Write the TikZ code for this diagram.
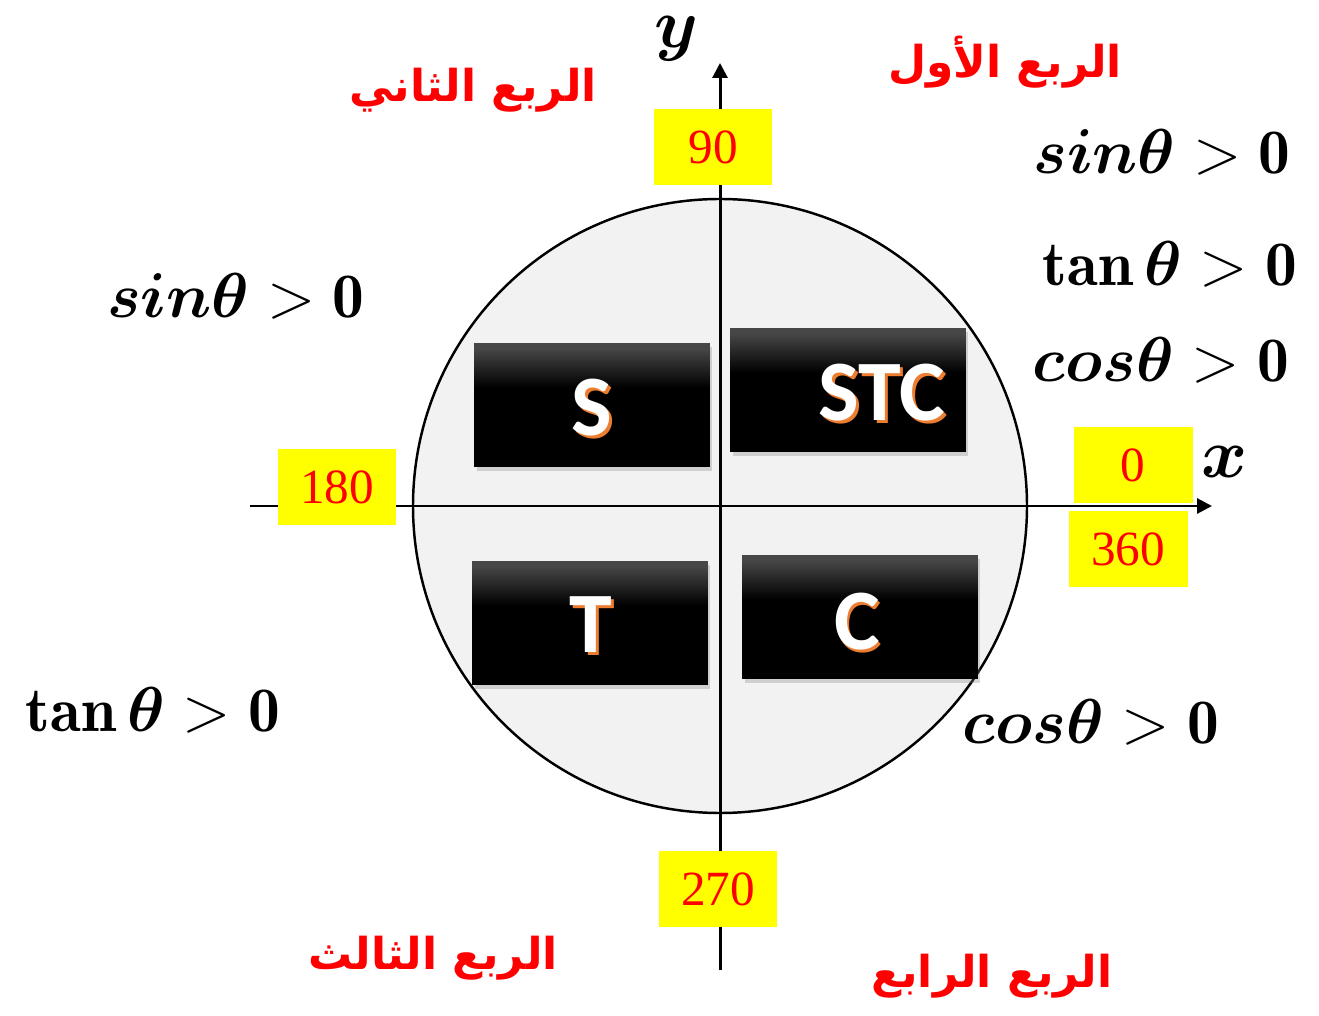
\documentclass[tikz,border=0pt]{standalone}
\usepackage{amsmath,bm,graphicx}
\usepackage{fontspec}
\newfontfamily\arabicfont[Script=Arabic]{DejaVu Sans}
\newfontfamily\numfont{Liberation Serif}
\newfontfamily\boxfont{Carlito}
\TeXXeTstate=1
\usetikzlibrary{arrows.meta,shadows}
\definecolor{CircleGray}{RGB}{242,242,242}
\definecolor{MarkYellow}{RGB}{255,255,0}
\definecolor{LetterOrange}{RGB}{237,125,49}
\pgfdeclareverticalshading{boxfade}{100bp}{color(0bp)=(black); color(25bp)=(black); color(57bp)=(black); color(73bp)=(black!72); color(100bp)=(black!72)}
\newcommand{\bigmath}[2][1.45]{\scalebox{#1}{\Huge$#2$}}
\tikzset{
  anglebox/.style={fill=MarkYellow,text=red,minimum width=2.38cm,minimum height=1.54cm,inner sep=0pt,font=\numfont\fontsize{28}{30}\selectfont},
  signbox/.style={shading=boxfade,minimum width=4.72cm,minimum height=2.48cm,drop shadow={opacity=.3,shadow xshift=.5mm,shadow yshift=-.8mm}},
  letter/.style={font=\boxfont\bfseries\fontsize{49}{50}\selectfont,inner sep=0pt},
  quadname/.style={text=red,font=\arabicfont\bfseries\fontsize{25}{27}\selectfont},
  signrule/.style={inner sep=0pt}
}
\begin{document}
\begin{tikzpicture}[x=.02cm,y=-.02cm]
\useasboundingbox (0,0) rectangle (1319,1016);
\coordinate (O) at (720,506);
\fill[CircleGray] (O) circle[radius=307];
\draw[line width=1.4pt] (O) circle[radius=307];
\coordinate (xl) at (250,506);\coordinate (xr) at (1212,506);
\coordinate (yb) at (720,970);\coordinate (yt) at (720,63);
\draw[-{Triangle[length=3mm,width=3mm]},line width=1.7pt] (xl)--(xr);
\draw[-{Triangle[length=3mm,width=3mm]},line width=1.7pt] (yb)--(yt);
\node[signbox] (S) at (592,405){};
\node[signbox] (STC) at (848,390){};
\node[signbox] (T) at (590,623){};
\node[signbox] (C) at (860,617){};
\foreach \t/\x/\y in {S/592/408,STC/882/393,T/591/625,C/857/622}{
  \node[letter,text=LetterOrange] (o\t) at (\x+2.5,\y+2.5){\t};
  \node[letter,text=white] (l\t) at (\x,\y){\t};
}
\foreach \v/\x/\y in {90/713/147,180/337/487,0/1133/465,360/1128/549,270/718/889}
  \node[anglebox] (a\v) at (\x,\y){\v};
\node[signrule] (xname) at (1225,462){\bigmath[1.6]{\bm{x}}};
\node[signrule] (yname) at (676,39){\bigmath[1.6]{\bm{y}}};
\node[signrule] (sinI) at (1162,152){\bigmath{\bm{sin\theta}>\mathbf{0}}};
\node[signrule] (tanI) at (1170,264){\bigmath{\mathbf{tan}\,\bm{\theta}>\mathbf{0}}};
\node[signrule] (cosI) at (1161,360){\bigmath{\bm{cos\theta}>\mathbf{0}}};
\node[signrule] (sinII) at (236,296){\bigmath{\bm{sin\theta}>\mathbf{0}}};
\node[signrule] (tanIII) at (153,710){\bigmath{\mathbf{tan}\,\bm{\theta}>\mathbf{0}}};
\node[signrule] (cosIV) at (1091,722){\bigmath{\bm{cos\theta}>\mathbf{0}}};
\node[quadname] (qI) at (1005,62){\beginR الربع الأول\endR};
\node[quadname] (qII) at (473,90){\beginR الربع الثاني\endR};
\node[quadname] (qIII) at (433,958){\beginR الربع الثالث\endR};
\node[quadname] (qIV) at (992,976){\beginR الربع الرابع\endR};
\end{tikzpicture}
\end{document}
